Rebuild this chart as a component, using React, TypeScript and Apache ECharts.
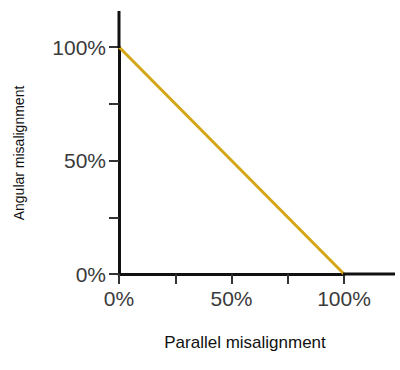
import React, { useEffect, useRef } from "react";
import * as echarts from "echarts";

const parallelMisalignment = [0, 1];
const angularMisalignment = [1, 0];
const labeledTicks = [0, 0.5, 1];
const xTitle = "Parallel misalignment";
const yTitle = "Angular misalignment";

const FONT = "'Liberation Sans', Arial, Helvetica, sans-serif";

const fmt = (v: number) => {
  const hit = labeledTicks.find((t) => Math.abs(t - v) < 1e-6);
  return hit === undefined ? "" : `${Math.round(hit * 100)}%`;
};

export default function App() {
  const ref = useRef<HTMLDivElement>(null);
  useEffect(() => {
    if (!ref.current) return;
    const chart = echarts.init(ref.current, null, { renderer: "svg" });
    const axisCommon = {
      type: "value" as const,
      min: 0,
      max: 1,
      interval: 0.25,
      splitLine: { show: false },
      axisLine: { show: true, lineStyle: { color: "#111", width: 3 } },
      axisTick: { show: true, inside: false, length: 10, lineStyle: { color: "#333", width: 2 } },
      axisLabel: { formatter: fmt, color: "#3a3a3a", fontSize: 21, fontFamily: FONT, margin: 13 },
    };
    chart.setOption({
      animation: false,
      backgroundColor: "#fff",
      grid: { left: 119, right: 56, top: 47, bottom: 96, containLabel: false },
      xAxis: { ...axisCommon, axisLabel: { ...axisCommon.axisLabel, margin: 14 } },
      yAxis: { ...axisCommon },
      series: [
        {
          type: "line",
          data: parallelMisalignment.map((x, i) => [x, angularMisalignment[i]]),
          symbol: "none",
          lineStyle: { color: "#D4A514", width: 3 },
          z: 1,
        },
      ],
    });
    const origin = chart.convertToPixel({ gridIndex: 0 }, [0, 0]) as number[];
    const corner = chart.convertToPixel({ gridIndex: 0 }, [1, 1]) as number[];
    chart.setOption({
      graphic: [
        {
          type: "line",
          shape: { x1: origin[0], y1: corner[1] + 1, x2: origin[0], y2: 11 },
          style: { stroke: "#111", lineWidth: 3 },
          z: 10,
        },
        {
          type: "line",
          shape: { x1: corner[0] - 1, y1: origin[1], x2: 395, y2: origin[1] },
          style: { stroke: "#111", lineWidth: 3 },
          z: 10,
        },
        {
          type: "text",
          x: 19,
          y: 153,
          rotation: Math.PI / 2,
          style: {
            text: yTitle,
            fill: "#111",
            font: `14px ${FONT}`,
            align: "center",
            verticalAlign: "middle",
          },
        },
        {
          type: "text",
          x: 245,
          y: 342,
          style: {
            text: xTitle,
            fill: "#111",
            font: `17px ${FONT}`,
            align: "center",
            verticalAlign: "middle",
          },
        },
      ],
    });
    return () => chart.dispose();
  }, []);
  return <div ref={ref} style={{ width: 400, height: 370, position: "absolute", left: 0, top: 0 }} />;
}
